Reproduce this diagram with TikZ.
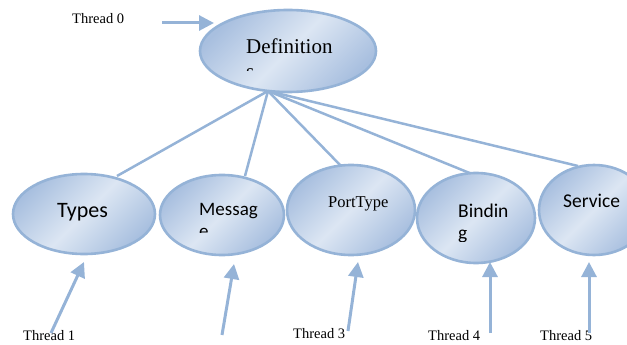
\documentclass[tikz,border=0pt]{standalone}
\usepackage{fontspec}
\setmainfont{Liberation Serif}
\newfontfamily\calfont{Carlito}
\usetikzlibrary{arrows.meta}
\definecolor{edgeblue}{RGB}{149,179,215}
\definecolor{lightfill}{RGB}{220,230,243}
\definecolor{darkfill}{RGB}{168,191,223}
\tikzset{
  bubble/.style={draw=edgeblue, line width=2.6pt, left color=darkfill, right color=darkfill, middle color=lightfill, shading angle=45},
  link/.style={draw=edgeblue, line width=2.5pt},
  thrarrow/.style={draw=edgeblue, line width=3pt, -{Triangle[length=15pt,width=15pt]}},
  thrlabel/.style={anchor=base west, inner sep=0pt, font=\rmfamily\fontsize{14.5}{17}\selectfont},
  sanstext/.style={anchor=base west, inner sep=0pt, font=\calfont\fontsize{19.5}{23}\selectfont},
  serftext/.style={anchor=base west, inner sep=0pt, font=\rmfamily\fontsize{21}{25}\selectfont},
}
\begin{document}
\begin{tikzpicture}[x=1pt,y=-1pt]
\useasboundingbox (0,0) rectangle (627,345);
\clip (0,0) rectangle (627,345);
% links first (behind ellipses)
\coordinate (hub) at (268,91);
\coordinate (tT) at (117,176);
\coordinate (tM) at (245,176);
\coordinate (tP) at (342,167);
\coordinate (tB) at (472,174);
\coordinate (tS) at (578,166);
\draw[link] (hub) -- (tT);
\draw[link] (hub) -- (tM);
\draw[link] (hub) -- (tP);
\draw[link] (hub) -- (tB);
\draw[link] (hub) -- (tS);
% ellipses
\path[bubble] (288,51) ellipse [x radius=88, y radius=41];
\path[bubble] (84,214) ellipse [x radius=71, y radius=40];
\path[bubble] (222,215) ellipse [x radius=62, y radius=40];
\path[bubble] (351,210) ellipse [x radius=64, y radius=45];
\path[bubble] (476,218) ellipse [x radius=59, y radius=45];
\path[bubble] (594,210) ellipse [x radius=55, y radius=45];
% texts
\node[serftext] (defn) at (246,54) {Definition};
\begin{scope}
\clip (230,60) rectangle (300,71);
\node[serftext] (defs) at (246,78) {s};
\end{scope}
\node[anchor=base west, inner sep=0pt, font=\calfont\fontsize{22}{26}\selectfont] (types) at (57,217) {Types};
\node[sanstext, font=\calfont\fontsize{19}{23}\selectfont] (mess) at (199,215) {Messag};
\begin{scope}
\clip (190,222) rectangle (260,232);
\node[sanstext, font=\calfont\fontsize{19}{23}\selectfont] (messe) at (199,237) {e};
\end{scope}
\node[serftext, font=\rmfamily\fontsize{16.5}{20}\selectfont] (port) at (328,207) {PortType};
\node[sanstext] (bind) at (458,217) {Bindin};
\begin{scope}
\clip (450,224) rectangle (520,241);
\node[sanstext] (bindg) at (458,239) {g};
\end{scope}
\node[sanstext] (serv) at (563,207) {Service};
% thread labels
\node[thrlabel] (th0) at (72,24) {Thread 0};
\node[thrlabel] (th1) at (23,340) {Thread 1};
\node[thrlabel] (th3) at (293,338) {Thread 3};
\node[thrlabel] (th4) at (428,340) {Thread 4};
\node[thrlabel] (th5) at (540,340) {Thread 5};
% arrows
\coordinate (a0s) at (162,23); \coordinate (a0e) at (214,23);
\coordinate (a1s) at (51,333); \coordinate (a1e) at (84,262);
\coordinate (a2s) at (222,335); \coordinate (a2e) at (234,264);
\coordinate (a3s) at (348,331); \coordinate (a3e) at (358,262);
\coordinate (a4s) at (490,333); \coordinate (a4e) at (490,262);
\coordinate (a5s) at (589,333); \coordinate (a5e) at (589,262);
\draw[thrarrow] (a0s) -- (a0e);
\draw[thrarrow] (a1s) -- (a1e);
\draw[thrarrow] (a2s) -- (a2e);
\draw[thrarrow] (a3s) -- (a3e);
\draw[thrarrow] (a4s) -- (a4e);
\draw[thrarrow] (a5s) -- (a5e);
\end{tikzpicture}
\end{document}
